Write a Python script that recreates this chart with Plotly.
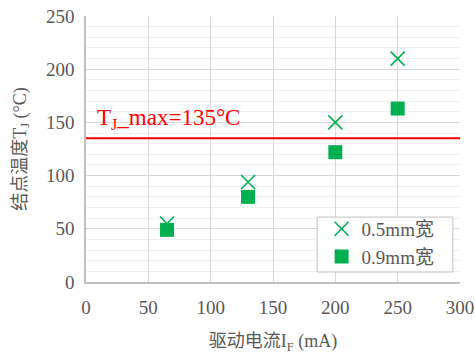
import plotly.graph_objects as go

current_ma = [65, 130, 200, 250]
tj_05mm = [55, 94, 150, 210]
tj_09mm = [49, 80, 122, 163]
tj_max = 135
series_names = ["0.5mm宽", "0.9mm宽"]
x_ticks = [0, 50, 100, 150, 200, 250, 300]
y_ticks = [0, 50, 100, 150, 200, 250]

GREEN = "#00b050"
FONT = "Liberation Serif, Times New Roman, Noto Sans CJK SC, serif"
GREY = "#595959"

fig = go.Figure()
fig.add_trace(go.Scatter(
    x=current_ma, y=tj_05mm, mode="markers", name=series_names[0],
    marker=dict(symbol="x-thin", size=14, color=GREEN, line=dict(color=GREEN, width=1.6)),
))
fig.add_trace(go.Scatter(
    x=current_ma, y=tj_09mm, mode="markers", name=series_names[1],
    marker=dict(symbol="square", size=14, color=GREEN, line=dict(width=0)),
))

fig.add_shape(type="line", xref="paper", x0=0, x1=1, yref="y", y0=tj_max, y1=tj_max,
              line=dict(color="#ff0000", width=2))
# legend box
fig.add_shape(type="rect", xref="paper", yref="paper", x0=0.618, x1=0.981, y0=0.0376, y1=0.244,
              fillcolor="white", line=dict(color="#bfbfbf", width=1), layer="above")
fig.add_annotation(x=0.025, xref="paper", y=tj_max, yref="y", yshift=3,
                   text="T<sub>J</sub>_max=%d°C" % tj_max, showarrow=False,
                   xanchor="left", yanchor="bottom",
                   font=dict(family=FONT, size=23, color="#ff0000"))

fig.update_layout(
    width=475, height=354,
    margin=dict(l=86, r=15, t=16, b=72),
    paper_bgcolor="white", plot_bgcolor="white",
    font=dict(family=FONT, color=GREY, size=18),
    showlegend=True,
    legend=dict(x=0.63, y=0.271, xanchor="left", yanchor="top",
                bgcolor="rgba(0,0,0,0)", borderwidth=0,
                font=dict(family=FONT, size=19, color=GREY),
                itemwidth=30, tracegroupgap=2),
)
fig.update_xaxes(
    range=[0, 300], tickvals=x_ticks, showgrid=True, gridcolor="#d9d9d9", gridwidth=1,
    showline=True, linecolor="#bfbfbf", linewidth=1.5, zeroline=False, automargin=False,
    ticks="", ticklabelstandoff=7, tickfont=dict(family=FONT, size=19, color=GREY),
    title=dict(text="驱动电流I<sub>F</sub> (mA)", font=dict(family=FONT, size=18, color=GREY), standoff=21),
)
fig.update_yaxes(
    range=[0, 250], tickvals=y_ticks, showgrid=True, gridcolor="#d9d9d9", gridwidth=1,
    minor=dict(dtick=10, showgrid=True, gridcolor="#f0f0f0", gridwidth=1),
    showline=True, linecolor="#bfbfbf", linewidth=1.5, zeroline=False, automargin=False,
    ticks="", ticklabelstandoff=6, tickfont=dict(family=FONT, size=19, color=GREY),
    title=dict(text="结点温度T<sub>J</sub> (°C)", font=dict(family=FONT, size=18, color=GREY), standoff=15),
)

fig.write_html("out.html", config={"displayModeBar": False},
               post_script="document.body.style.margin='0';document.body.style.overflow='hidden';")
